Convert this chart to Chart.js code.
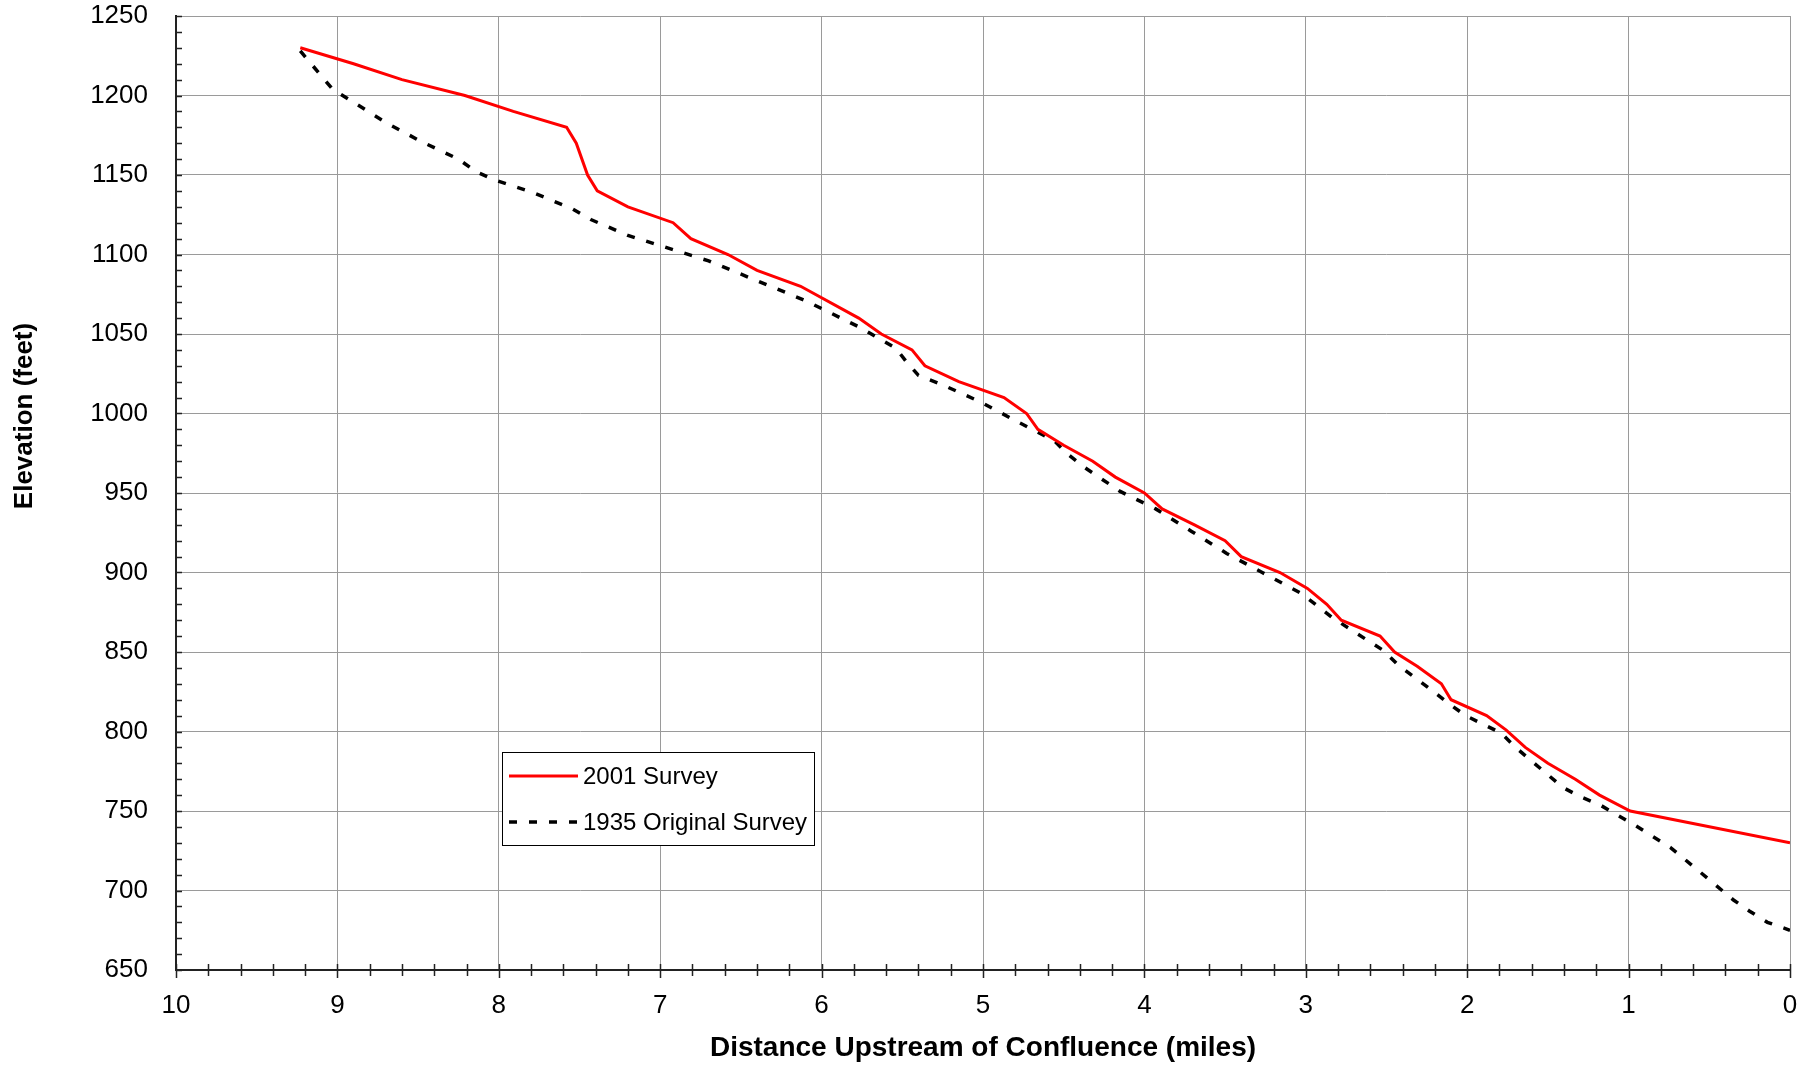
<!DOCTYPE html>
<html><head><meta charset="utf-8">
<script src="https://cdn.jsdelivr.net/npm/chart.js@4.4.0/dist/chart.umd.min.js"></script>
<style>html,body{margin:0;padding:0;background:#fff}canvas{display:block}</style>
</head><body>
<canvas id="c" width="1810" height="1066"></canvas>
<script>
// ---- data ----
const dist2001 = [9.23,8.90,8.60,8.21,7.91,7.58,7.52,7.45,7.39,7.20,6.92,6.81,6.58,6.40,6.13,5.77,5.63,5.44,5.36,5.15,4.87,4.73,4.66,4.50,4.32,4.18,4.00,3.89,3.69,3.50,3.40,3.16,2.99,2.87,2.78,2.54,2.45,2.31,2.16,2.10,1.88,1.76,1.64,1.50,1.33,1.18,0.99,0.00];
const elev2001 = [1230,1220,1210,1200,1190,1180,1170,1150,1140,1130,1120,1110,1100,1090,1080,1060,1050,1040,1030,1020,1010,1000,990,980,970,960,950,940,930,920,910,900,890,880,870,860,850,841,830,820,810,801,790,780,770,760,750,730];
const dist1935 = [9.23,9.03,8.70,8.48,8.25,8.14,8.03,7.79,7.55,7.43,7.20,6.95,6.70,6.46,6.22,6.10,5.76,5.54,5.47,5.40,5.25,5.01,4.79,4.56,4.47,4.37,4.15,3.93,3.71,3.49,3.27,3.03,2.94,2.84,2.72,2.52,2.43,2.22,2.12,2.01,1.79,1.70,1.41,1.30,1.18,0.96,0.74,0.55,0.35,0.25,0.14,0.00];
const elev1935 = [1228,1204,1183,1171,1160,1152,1147,1139,1129,1122,1112,1104,1096,1086,1076,1071,1054,1041,1032,1024,1018,1007,995,983,974,966,951,940,926,912,900,887,880,872,864,851,842,826,818,810,799,790,765,759,754,741,727,711,694,687,680,675];
const seriesLabels = ['2001 Survey', '1935 Original Survey'];
const xTickValues = [10,9,8,7,6,5,4,3,2,1,0];
const yTickValues = [650,700,750,800,850,900,950,1000,1050,1100,1150,1200,1250];
const xTitle = 'Distance Upstream of Confluence (miles)';
const yTitle = 'Elevation (feet)';

const FONT = "'Liberation Sans', Arial, Helvetica, sans-serif";
const pts = (xs, ys) => xs.map((x, i) => ({x: x, y: ys[i]}));

const extras = {
  id: 'extras',
  afterDraw(chart) {
    const ctx = chart.ctx, xs = chart.scales.x, ys = chart.scales.y, a = chart.chartArea;
    ctx.save();
    // minor / major tick marks
    ctx.strokeStyle = '#222'; ctx.lineWidth = 1.5;
    ctx.beginPath();
    for (let v = ys.min; v <= ys.max + 1e-9; v += 10) {
      const py = Math.round(ys.getPixelForValue(v)) + 0.5;
      ctx.moveTo(a.left, py); ctx.lineTo(a.left + 6, py);
    }
    for (let k = 0; k <= 50; k++) {
      const v = k / 5;
      const px = Math.round(xs.getPixelForValue(v)) + 0.5;
      const major = (k % 5 === 0);
      ctx.moveTo(px, a.bottom - 6); ctx.lineTo(px, a.bottom + (major ? 8 : 6));
    }
    ctx.stroke();
    // y axis title
    ctx.fillStyle = '#000';
    ctx.font = 'bold 26px ' + FONT;
    ctx.textAlign = 'center'; ctx.textBaseline = 'middle';
    ctx.translate(25, 416); ctx.rotate(-Math.PI / 2);
    ctx.fillText(yTitle, 0, 0);
    ctx.setTransform(1, 0, 0, 1, 0, 0);
    // legend
    const lx = 502.5, ly = 752.5, lw = 312, lh = 93;
    ctx.fillStyle = '#fff'; ctx.fillRect(lx, ly, lw, lh);
    ctx.strokeStyle = '#000'; ctx.lineWidth = 1; ctx.strokeRect(lx, ly, lw, lh);
    const rows = [776, 822];
    chart.data.datasets.forEach((ds, i) => {
      ctx.save();
      ctx.strokeStyle = ds.borderColor; ctx.lineWidth = ds.borderWidth;
      ctx.setLineDash(ds.borderDash || []);
      ctx.beginPath(); ctx.moveTo(509, rows[i]); ctx.lineTo(578, rows[i]); ctx.stroke();
      ctx.restore();
      ctx.fillStyle = '#000'; ctx.font = '24px ' + FONT;
      ctx.textAlign = 'left'; ctx.textBaseline = 'middle';
      ctx.fillText(ds.label, 583, rows[i] + 1);
    });
    ctx.restore();
  }
};

new Chart(document.getElementById('c'), {
  type: 'line',
  data: {
    datasets: [
      {label: seriesLabels[0], data: pts(dist2001, elev2001), borderColor: '#ff0000', borderWidth: 3,
       pointRadius: 0, tension: 0, fill: false},
      {label: seriesLabels[1], data: pts(dist1935, elev1935), borderColor: '#000000', borderWidth: 3.5,
       borderDash: [8, 12], pointRadius: 0, tension: 0, fill: false}
    ]
  },
  options: {
    responsive: false, animation: false, devicePixelRatio: 1,
    layout: {padding: {left: 0, right: 20, top: 16, bottom: 0}},
    plugins: {legend: {display: false}, tooltip: {enabled: false}},
    scales: {
      x: {
        type: 'linear', reverse: true, min: 0, max: 10,
        afterFit: s => { s.height = 96; s.paddingLeft = 0; s.paddingRight = 0; },
        afterBuildTicks: s => { s.ticks = xTickValues.map(v => ({value: v})); },
        ticks: {stepSize: 1, padding: 20, color: '#000', font: {family: FONT, size: 26},
                callback: v => String(v), maxRotation: 0, autoSkip: false},
        grid: {color: '#9a9a9a', lineWidth: 1, drawTicks: false},
        border: {display: true, color: '#222', width: 2},
        title: {display: true, text: xTitle, color: '#000', font: {family: FONT, size: 28, weight: 'bold'},
                padding: {top: 0, bottom: 1}}
      },
      y: {
        type: 'linear', min: 650, max: 1250,
        afterFit: s => { s.width = 176; s.paddingTop = 0; s.paddingBottom = 0; },
        afterBuildTicks: s => { s.ticks = yTickValues.map(v => ({value: v})); },
        ticks: {stepSize: 50, padding: 28, color: '#000', font: {family: FONT, size: 26},
                callback: v => String(v), autoSkip: false},
        grid: {color: '#9a9a9a', lineWidth: 1, drawTicks: false},
        border: {display: true, color: '#222', width: 2}
      }
    }
  },
  plugins: [extras]
});
</script>
</body></html>
